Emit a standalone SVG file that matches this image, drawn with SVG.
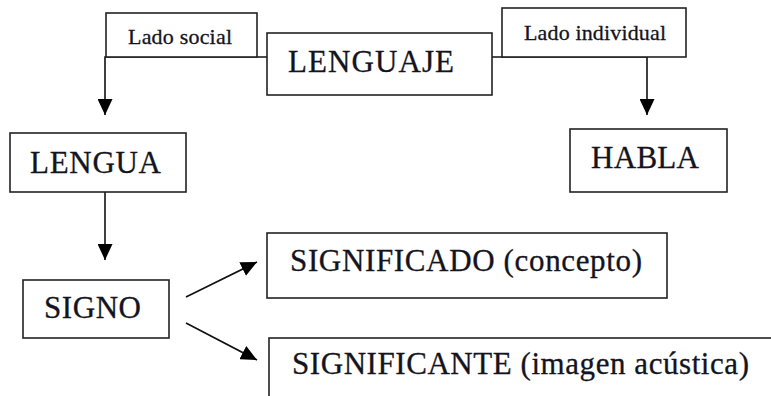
<svg xmlns="http://www.w3.org/2000/svg" width="771" height="396" viewBox="0 0 771 396">
<style>
.box{fill:#fff;stroke:#222;stroke-width:1.6}
.t{font-family:"Liberation Serif","Times New Roman","DejaVu Serif",serif;fill:#141420;stroke:#141420;stroke-width:0.3}
.big{font-size:31px}
.small{font-size:22px}
.ln{fill:none;stroke:#111;stroke-width:1.6}
</style>
<defs>
<marker id="ahb" viewBox="0 0 10 10" refX="10" refY="5" markerWidth="16" markerHeight="15" markerUnits="userSpaceOnUse" orient="auto" preserveAspectRatio="none">
<path d="M0,0 L10,5 L0,10 Z" fill="#000"/>
</marker>
</defs>
<g id="connectors">
<path class="ln" d="M267,57 H105 V115" marker-end="url(#ahb)"/>
<path class="ln" d="M492,57 H647 V115" marker-end="url(#ahb)"/>
<path class="ln" d="M105,192 V260" marker-end="url(#ahb)"/>
<path class="ln" d="M186,297 L257,262" marker-end="url(#ahb)"/>
<path class="ln" d="M186,323 L257,360" marker-end="url(#ahb)"/>
</g>
<g id="lado-social">
<rect class="box" x="106" y="13" width="151" height="44"/>
<text class="t small" x="128" y="44" textLength="104">Lado social</text>
</g>
<g id="lenguaje">
<rect class="box" x="267" y="33" width="225" height="62"/>
<text class="t big" x="288" y="72" textLength="166">LENGUAJE</text>
</g>
<g id="lado-individual">
<rect class="box" x="502" y="8" width="184" height="49"/>
<text class="t small" x="524" y="40" textLength="142">Lado individual</text>
</g>
<g id="lengua">
<rect class="box" x="10" y="133" width="176" height="59"/>
<text class="t big" x="30" y="173" textLength="131">LENGUA</text>
</g>
<g id="habla">
<rect class="box" x="570" y="129" width="157" height="63"/>
<text class="t big" x="591" y="168" textLength="108">HABLA</text>
</g>
<g id="signo">
<rect class="box" x="23" y="280" width="146" height="58"/>
<text class="t big" x="44" y="318" textLength="97">SIGNO</text>
</g>
<g id="significado">
<rect class="box" x="267" y="233" width="400" height="65"/>
<text class="t big" x="290" y="271" textLength="352">SIGNIFICADO (concepto)</text>
</g>
<g id="significante">
<rect class="box" x="269" y="338" width="520" height="70"/>
<text class="t big" x="292" y="374" textLength="457">SIGNIFICANTE (imagen acústica)</text>
</g>
</svg>
